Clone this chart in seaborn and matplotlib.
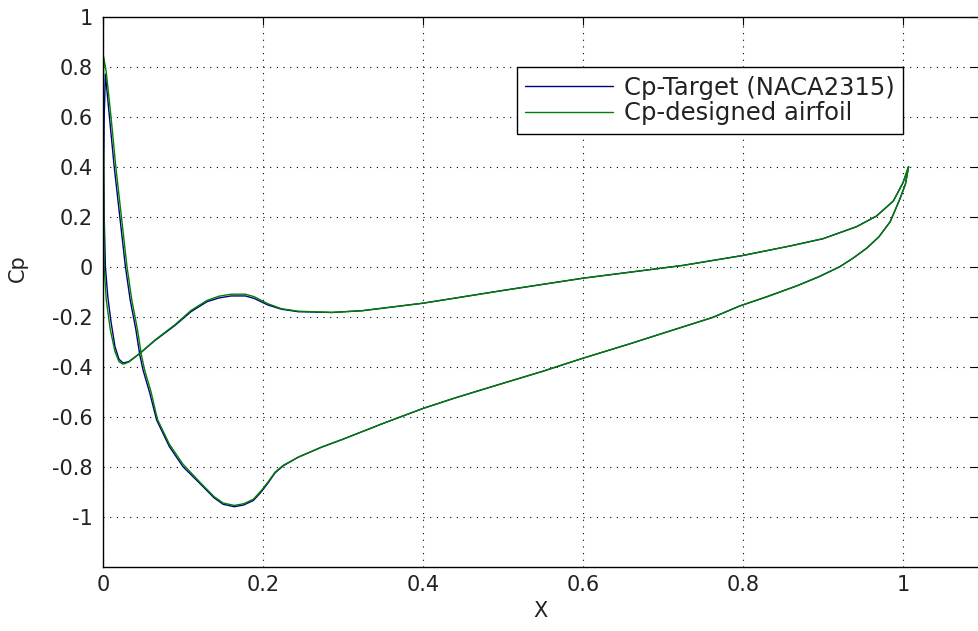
import matplotlib
matplotlib.use("Agg")
import matplotlib.pyplot as plt
import seaborn as sns
import pandas as pd

# ---------------- data ----------------
series_names = ["Cp-Target (NACA2315)", "Cp-designed airfoil"]

# Target: trailing edge -> upper surface -> leading edge -> lower surface -> trailing edge
target_x = [1.007, 1.003, 0.996, 0.984, 0.970, 0.955, 0.938, 0.921, 0.895, 0.867,
            0.830, 0.796, 0.762, 0.700, 0.658, 0.600, 0.550, 0.488, 0.440, 0.400,
            0.350, 0.300, 0.273, 0.244, 0.225, 0.215, 0.207, 0.198, 0.188, 0.176,
            0.164, 0.150, 0.139, 0.122, 0.100, 0.083, 0.067, 0.058, 0.050, 0.046,
            0.041, 0.034, 0.028, 0.021, 0.014, 0.008, 0.003,
            0.0015, 0.001, 0.0015, 0.003, 0.006, 0.010, 0.015, 0.020, 0.025, 0.032,
            0.046, 0.065, 0.090, 0.110, 0.130, 0.145, 0.160, 0.178, 0.189, 0.206,
            0.223, 0.244, 0.286, 0.324, 0.400, 0.500, 0.600, 0.7245, 0.800, 0.859,
            0.900, 0.942, 0.967, 0.988, 1.000, 1.007]
target_cp = [0.40, 0.33, 0.27, 0.18, 0.12, 0.075, 0.035, 0.0, -0.04, -0.077,
             -0.12, -0.157, -0.203, -0.266, -0.309, -0.366, -0.418, -0.478, -0.525, -0.567,
             -0.627, -0.69, -0.722, -0.762, -0.797, -0.825, -0.862, -0.90, -0.935, -0.953,
             -0.96, -0.95, -0.925, -0.87, -0.80, -0.72, -0.613, -0.50, -0.413, -0.353,
             -0.25, -0.133, 0.0, 0.2, 0.4, 0.6, 0.77,
             0.6, 0.4, 0.2, 0.0, -0.12, -0.22, -0.32, -0.37, -0.385, -0.38,
             -0.347, -0.295, -0.235, -0.18, -0.14, -0.125, -0.117, -0.117, -0.127, -0.153,
             -0.17, -0.18, -0.183, -0.176, -0.146, -0.095, -0.046, 0.005, 0.045, 0.083,
             0.112, 0.16, 0.203, 0.263, 0.336, 0.40]

# Designed airfoil: same ordering
designed_x = [1.007, 1.003, 0.996, 0.984, 0.970, 0.955, 0.938, 0.921, 0.895, 0.867,
              0.830, 0.796, 0.762, 0.700, 0.658, 0.600, 0.550, 0.488, 0.440, 0.400,
              0.350, 0.300, 0.273, 0.244, 0.225, 0.215, 0.207, 0.198, 0.188, 0.176,
              0.164, 0.150, 0.139, 0.122, 0.100, 0.083, 0.068, 0.060, 0.052, 0.048,
              0.043, 0.036, 0.030, 0.023, 0.016, 0.010, 0.004, 0.0008,
              0.0005, 0.001, 0.0015, 0.004, 0.009, 0.015, 0.020, 0.025, 0.032,
              0.046, 0.065, 0.090, 0.110, 0.130, 0.145, 0.160, 0.178, 0.189, 0.206,
              0.223, 0.244, 0.286, 0.324, 0.400, 0.500, 0.600, 0.7245, 0.800, 0.859,
              0.900, 0.942, 0.967, 0.988, 1.000, 1.007]
designed_cp = [0.40, 0.33, 0.27, 0.18, 0.12, 0.075, 0.035, 0.0, -0.04, -0.077,
               -0.12, -0.157, -0.203, -0.266, -0.309, -0.366, -0.418, -0.478, -0.525, -0.567,
               -0.627, -0.69, -0.722, -0.762, -0.795, -0.822, -0.858, -0.895, -0.93, -0.948,
               -0.955, -0.945, -0.92, -0.865, -0.79, -0.71, -0.61, -0.50, -0.413, -0.353,
               -0.25, -0.133, 0.0, 0.2, 0.4, 0.6, 0.78, 0.84,
               0.6, 0.3, 0.0, -0.13, -0.25, -0.34, -0.38, -0.39, -0.382,
               -0.347, -0.293, -0.232, -0.175, -0.135, -0.118, -0.11, -0.11, -0.12, -0.148,
               -0.168, -0.178, -0.183, -0.176, -0.146, -0.095, -0.046, 0.005, 0.045, 0.083,
               0.112, 0.16, 0.203, 0.263, 0.336, 0.40]

x_ticks = [0, 0.2, 0.4, 0.6, 0.8, 1]
x_tick_labels = ["0", "0.2", "0.4", "0.6", "0.8", "1"]
y_ticks = [1, 0.8, 0.6, 0.4, 0.2, 0, -0.2, -0.4, -0.6, -0.8, -1]
y_tick_labels = ["1", "0.8", "0.6", "0.4", "0.2", "0", "-0.2", "-0.4", "-0.6", "-0.8", "-1"]

colors = ["#000080", "#007f00"]

# ---------------- figure ----------------
sns.set_theme(style="white")
plt.rcParams["font.family"] = ["DejaVu Sans"]
plt.rcParams["axes.unicode_minus"] = False

W, H = 979, 631
fig = plt.figure(figsize=(W / 100, H / 100), dpi=100)
left_px, right_px, top_px, bottom_px = 103, 978.5, 16.7, 566.7
ax = fig.add_axes([left_px / W, (H - bottom_px) / H,
                   (right_px - left_px) / W, (bottom_px - top_px) / H])

df = pd.concat([
    pd.DataFrame({"x": target_x, "cp": target_cp, "series": series_names[0]}),
    pd.DataFrame({"x": designed_x, "cp": designed_cp, "series": series_names[1]}),
], ignore_index=True)

sns.lineplot(data=df, x="x", y="cp", hue="series", palette=colors,
             sort=False, estimator=None, linewidth=1.0, ax=ax, legend=False)

ax.set_xlim(0, (right_px - left_px) / 800)
ax.set_ylim(-1.2, 1.0)
ax.set_xticks(x_ticks)
ax.set_xticklabels(x_tick_labels)
ax.set_yticks(y_ticks)
ax.set_yticklabels(y_tick_labels)

ax.grid(True, linestyle=(0, (1, 5)), color="black", linewidth=0.8)
ax.set_axisbelow(True)

for side in ["left", "bottom", "top"]:
    ax.spines[side].set_color("black")
    ax.spines[side].set_linewidth(1.0)
ax.spines["right"].set_visible(False)

ax.tick_params(axis="both", direction="in", length=6, width=0.8, colors="black",
               top=True, right=True, labelsize=15)
ax.tick_params(axis="y", pad=7.5)
ax.tick_params(axis="x", pad=6)
for lab in ax.get_xticklabels() + ax.get_yticklabels():
    lab.set_color("#222222")

ax.set_xlabel("X", fontsize=15, color="#222222", va="center")
ax.xaxis.set_label_coords(0.5, (bottom_px - 611) / (bottom_px - top_px))
ax.set_ylabel("Cp", fontsize=15, color="#222222", va="center")
ax.yaxis.set_label_coords((18 - left_px) / (right_px - left_px),
                          (bottom_px - 268) / (bottom_px - top_px))

# legend
from matplotlib.lines import Line2D
handles = [Line2D([0], [0], color=c, lw=1.0) for c in colors]
leg = ax.legend(handles, series_names, loc="upper right",
                bbox_to_anchor=((903 - left_px) / (right_px - left_px),
                                (bottom_px - 67) / (bottom_px - top_px)),
                fontsize=17.5, frameon=True, fancybox=False, shadow=False,
                edgecolor="black", framealpha=1, borderpad=0.35,
                handlelength=3.6, handletextpad=0.45, labelspacing=0.08,
                borderaxespad=0)
leg.get_frame().set_linewidth(1.0)
for t in leg.get_texts():
    t.set_color("#222222")

fig.savefig("out.png", dpi=100, facecolor="white")
